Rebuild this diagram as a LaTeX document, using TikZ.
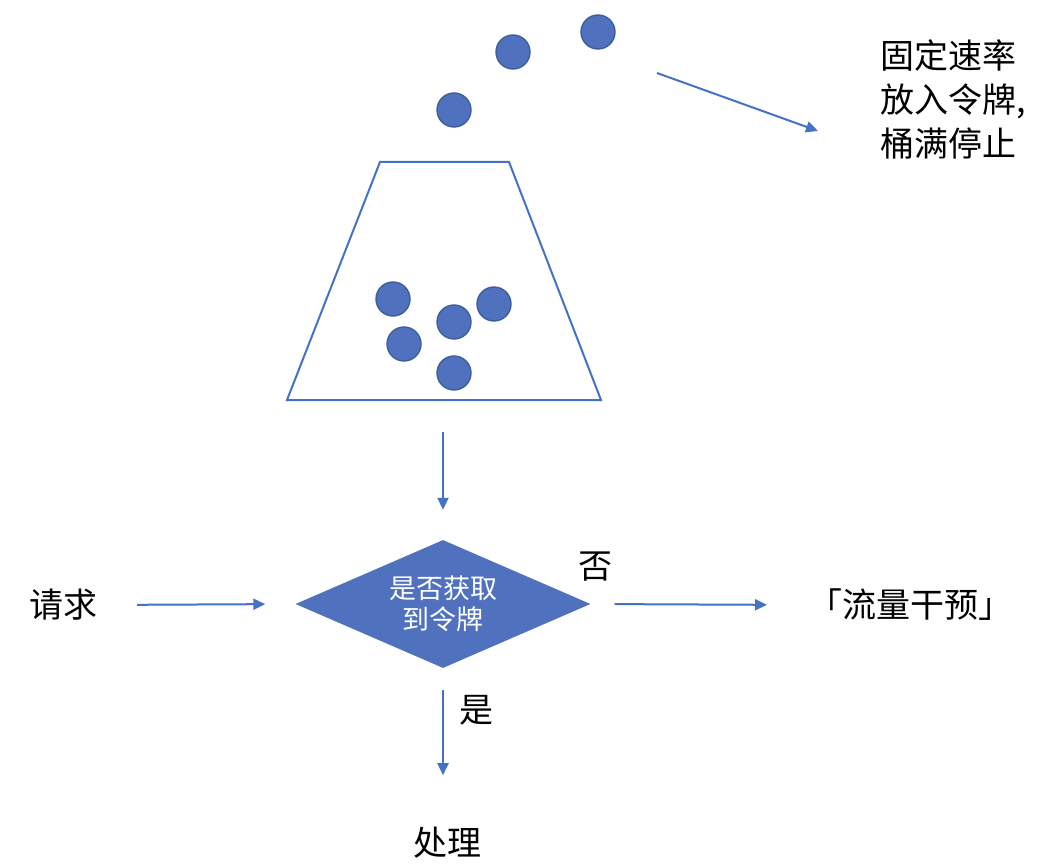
\documentclass[tikz,border=0pt]{standalone}
\usepackage{fontspec}
\setmainfont{Noto Sans CJK SC}
\usetikzlibrary{shapes.geometric,arrows.meta}
\definecolor{lineblue}{HTML}{4472C4}
\definecolor{tokenfill}{HTML}{4F71BE}
\definecolor{tokenedge}{HTML}{3E5E9C}
\tikzset{
  flow/.style={draw=lineblue, line width=2pt, -{Triangle[length=12pt,width=11pt]}},
  token/.style={circle, fill=tokenfill, draw=tokenedge, line width=1.4pt, minimum size=34pt, inner sep=0pt},
  label/.style={inner sep=0pt, font=\fontsize{34pt}{44pt}\selectfont, text=black},
  decision/.style={diamond, fill=tokenfill, draw=none, minimum width=295pt, minimum height=128pt,
    inner sep=0pt, aspect=2.3, align=center, text=white, font=\fontsize{27pt}{31pt}\selectfont},
}
\begin{document}
\begin{tikzpicture}[x=1pt, y=-1pt]
  \useasboundingbox (0,0) rectangle (1046,866);

  % tokens falling into the bucket
  \node[token] (t1) at (454,110) {};
  \node[token] (t2) at (513,52) {};
  \node[token] (t3) at (598,32) {};

  % the bucket and the tokens it holds
  \draw[lineblue, line width=2pt, line join=miter] (380,162) -- (509,162) -- (601,400) -- (287,400) -- cycle;
  \coordinate (bucketbase) at (443,400);
  \node[token] (b1) at (393,299) {};
  \node[token] (b2) at (494,304) {};
  \node[token] (b3) at (454,322) {};
  \node[token] (b4) at (404,344) {};
  \node[token] (b5) at (454,373) {};

  % refill rate note
  \node[label, anchor=north west, align=left] (rate) at (880,40) {固定速率\\放入令牌,\\桶满停止};
  \coordinate (fillstart) at (657,73);
  \coordinate (fillend) at (818,131);
  \draw[flow] (fillstart) -- (fillend);

  % decision flow
  \node[decision] (dec) at (443,604) {是否获取\\到令牌};
  \node[label] (req) at (63,605) {请求};
  \node[label, anchor=west] (limit) at (808,605) {「流量干预」};
  \node[label] (proc) at (447,843) {处理};
  \node[label] (no) at (595,567) {否};
  \node[label] (yes) at (476,710) {是};

  \draw[flow, shorten <=32pt, shorten >=30pt] (bucketbase) -- (dec.north);
  \draw[flow, shorten <=40pt, shorten >=30pt] (req.east) -- (dec.west);
  \draw[flow, shorten <=24pt, shorten >=41pt] (dec.east) -- (limit.west);
  \draw[flow, shorten <=22pt, shorten >=52pt] (dec.south) -- (dec.south |- proc.north);
\end{tikzpicture}
\end{document}
